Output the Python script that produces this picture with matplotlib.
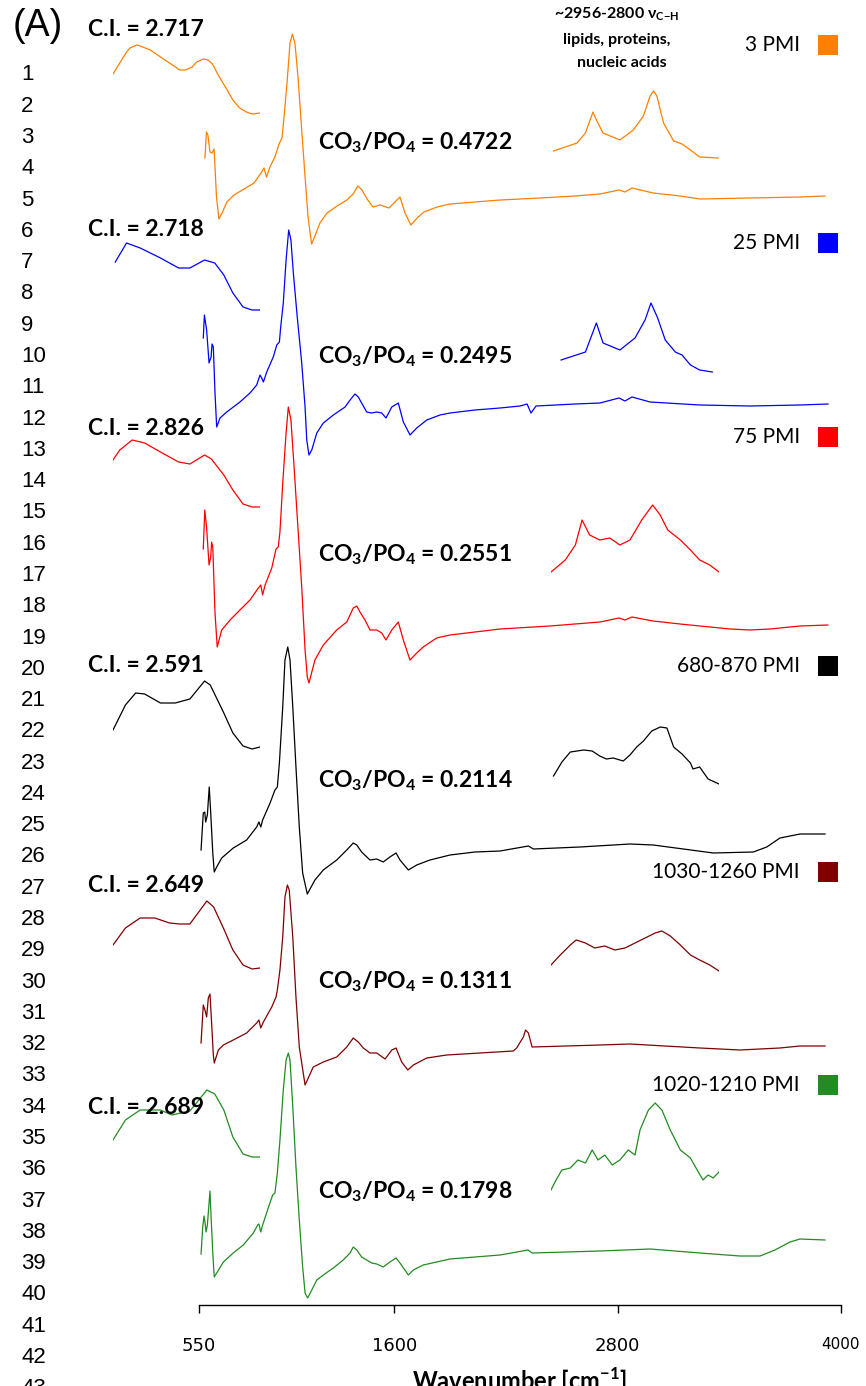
import numpy as np
import matplotlib
matplotlib.use("Agg")
import matplotlib.pyplot as plt
from matplotlib.patches import Rectangle

plt.rcParams["font.family"] = ["Lato", "DejaVu Sans"]
plt.rcParams["mathtext.fontset"] = "custom"
plt.rcParams["mathtext.rm"] = "Lato"
plt.rcParams["mathtext.bf"] = "Lato:bold"

# Sample groups (post-mortem interval) and colours
samples = ["3 PMI", "25 PMI", "75 PMI", "680-870 PMI", "1030-1260 PMI", "1020-1210 PMI"]
colors = ["#FF8000", "#0000FF", "#FF0000", "#000000", "#800000", "#228B22"]
ci_values = ["2.717", "2.718", "2.826", "2.591", "2.649", "2.689"]
co3_po4 = ["0.4722", "0.2495", "0.2551", "0.2114", "0.1311", "0.1798"]

# Full spectra (wavenumber in cm-1, absorbance in a.u.)
wn_3 = [582, 590, 598, 609, 620, 631, 644, 657, 674, 700, 738, 792, 846, 883, 899, 913, 931, 958, 980, 996,
        1007, 1023, 1039, 1052, 1066, 1082, 1103, 1120, 1136, 1155, 1173, 1200, 1238, 1292, 1345, 1378, 1404,
        1426, 1453, 1485, 1523, 1571, 1603, 1630, 1657, 1689, 1722, 1759, 1829, 1899, 2033, 2168, 2383, 2571,
        2705, 2807, 2839, 2877, 2990, 3135, 3242, 3511, 3780, 3914]
abs_3 = [0.47, 0.73, 0.70, 0.53, 0.52, 0.56, 0.08, -0.14, -0.08, 0.03, 0.10, 0.16, 0.22, 0.32, 0.37, 0.28, 0.38,
         0.48, 0.61, 0.67, 0.88, 1.22, 1.62, 1.71, 1.61, 1.28, 0.72, 0.28, -0.12, -0.39, -0.31, -0.18, -0.08,
         -0.01, 0.05, 0.11, 0.19, 0.15, 0.06, -0.02, 0.00, -0.03, 0.03, 0.08, -0.08, -0.20, -0.13, -0.07, -0.02,
         0.01, 0.03, 0.05, 0.07, 0.09, 0.11, 0.15, 0.13, 0.17, 0.12, 0.09, 0.06, 0.07, 0.08, 0.09]

wn_25 = [573, 579, 591, 604, 615, 620, 627, 636, 645, 663, 699, 770, 824, 860, 878, 887, 896, 914, 949, 968,
         982, 989, 1003, 1018, 1032, 1044, 1057, 1078, 1102, 1120, 1129, 1141, 1156, 1183, 1218, 1272, 1335,
         1362, 1388, 1406, 1424, 1451, 1478, 1505, 1532, 1555, 1586, 1621, 1648, 1684, 1720, 1774, 1845, 1899,
         2033, 2168, 2275, 2313, 2334, 2361, 2571, 2705, 2807, 2839, 2877, 2974, 3242, 3511, 3780, 3930]
abs_25 = [0.67, 0.90, 0.75, 0.42, 0.48, 0.61, 0.58, 0.12, -0.22, -0.13, -0.07, 0.03, 0.12, 0.20, 0.30, 0.27,
          0.23, 0.33, 0.48, 0.60, 0.63, 0.78, 1.02, 1.45, 1.75, 1.65, 1.32, 0.88, 0.42, -0.02, -0.35, -0.50,
          -0.45, -0.28, -0.18, -0.10, -0.02, 0.05, 0.11, 0.08, 0.02, -0.07, -0.08, -0.07, -0.08, -0.13, -0.02,
          0.02, -0.17, -0.30, -0.23, -0.15, -0.10, -0.08, -0.05, -0.03, -0.01, 0.01, -0.08, -0.01, 0.01, 0.02,
          0.07, 0.04, 0.08, 0.03, 0.00, -0.01, 0.00, 0.01]

wn_75 = [573, 581, 591, 604, 613, 618, 624, 636, 648, 672, 717, 770, 824, 869, 882, 892, 905, 941, 964, 976,
         985, 1000, 1018, 1030, 1044, 1061, 1078, 1102, 1120, 1132, 1141, 1173, 1218, 1290, 1344, 1379, 1398,
         1415, 1442, 1469, 1505, 1532, 1555, 1586, 1621, 1648, 1684, 1720, 1755, 1827, 1899, 2033, 2168, 2436,
         2705, 2807, 2839, 2877, 2990, 3135, 3242, 3404, 3511, 3619, 3780, 3930]
abs_75 = [0.76, 1.15, 0.97, 0.60, 0.68, 0.83, 0.78, 0.12, -0.22, -0.05, 0.05, 0.15, 0.25, 0.37, 0.40, 0.30,
          0.40, 0.57, 0.76, 0.78, 0.93, 1.42, 1.92, 2.18, 2.05, 1.58, 1.08, 0.38, -0.25, -0.52, -0.58, -0.35,
          -0.20, -0.05, 0.03, 0.17, 0.19, 0.13, 0.05, -0.05, -0.05, -0.08, -0.15, -0.05, 0.03, -0.15, -0.35,
          -0.28, -0.22, -0.13, -0.10, -0.07, -0.04, -0.01, 0.03, 0.07, 0.05, 0.08, 0.04, 0.01, -0.01, -0.04,
          -0.05, -0.04, -0.01, 0.00]

wn_680 = [561, 573, 581, 586, 595, 605, 613, 624, 632, 645, 672, 734, 806, 860, 872, 882, 892, 932, 958, 971,
          982, 1000, 1012, 1027, 1039, 1054, 1071, 1089, 1107, 1132, 1173, 1218, 1290, 1344, 1379, 1398, 1424,
          1469, 1505, 1540, 1576, 1609, 1630, 1675, 1720, 1791, 1899, 2033, 2168, 2320, 2347, 2598, 2866, 2991,
          3314, 3529, 3601, 3672, 3780, 3914]
abs_680 = [-0.05, 0.32, 0.33, 0.23, 0.30, 0.58, 0.32, -0.08, -0.27, -0.22, -0.13, -0.03, 0.05, 0.18, 0.23, 0.18,
           0.25, 0.42, 0.55, 0.58, 0.82, 1.38, 1.85, 1.98, 1.85, 1.38, 0.78, 0.18, -0.28, -0.49, -0.35, -0.25,
           -0.15, -0.05, 0.02, 0.00, -0.07, -0.15, -0.14, -0.17, -0.12, -0.08, -0.15, -0.25, -0.20, -0.15, -0.10,
           -0.07, -0.06, -0.01, -0.04, -0.02, 0.01, 0.00, -0.08, -0.07, -0.02, 0.07, 0.11, 0.11]

wn_1030 = [561, 573, 582, 591, 600, 609, 616, 627, 632, 654, 681, 734, 806, 860, 872, 882, 896, 941, 964, 971,
           985, 1000, 1012, 1025, 1035, 1054, 1071, 1089, 1120, 1164, 1218, 1290, 1344, 1379, 1406, 1433, 1469,
           1505, 1550, 1586, 1609, 1639, 1672, 1702, 1774, 1881, 2060, 2239, 2257, 2293, 2305, 2320, 2340, 2705,
           2866, 3242, 3457, 3672, 3780, 3914]
abs_1030 = [0.02, 0.40, 0.35, 0.28, 0.47, 0.51, 0.28, -0.10, -0.18, -0.05, 0.00, 0.05, 0.12, 0.22, 0.25, 0.17,
            0.23, 0.38, 0.48, 0.55, 0.75, 1.08, 1.48, 1.60, 1.55, 1.08, 0.48, -0.02, -0.40, -0.22, -0.17, -0.12,
            -0.02, 0.07, 0.03, -0.03, -0.08, -0.08, -0.14, -0.05, -0.03, -0.17, -0.25, -0.20, -0.13, -0.10, -0.08,
            -0.06, -0.03, 0.08, 0.15, 0.12, -0.02, 0.00, 0.01, -0.03, -0.05, -0.03, -0.01, -0.01]

wn_1020 = [561, 570, 577, 582, 588, 595, 609, 614, 624, 632, 645, 681, 734, 788, 842, 865, 872, 882, 892, 922,
           946, 958, 971, 985, 1003, 1018, 1030, 1039, 1054, 1071, 1089, 1107, 1120, 1134, 1156, 1183, 1218,
           1272, 1325, 1362, 1379, 1398, 1424, 1451, 1478, 1505, 1540, 1576, 1609, 1630, 1675, 1702, 1755, 1827,
           1899, 2168, 2318, 2340, 2705, 2974, 3242, 3457, 3565, 3645, 3726, 3780, 3914]
abs_1020 = [0.01, 0.28, 0.39, 0.33, 0.23, 0.30, 0.64, 0.42, 0.02, -0.22, -0.18, -0.07, 0.02, 0.10, 0.22, 0.30,
            0.31, 0.23, 0.30, 0.47, 0.60, 0.62, 0.82, 1.15, 1.65, 1.95, 2.02, 1.95, 1.48, 0.88, 0.35, -0.12,
            -0.38, -0.43, -0.35, -0.25, -0.20, -0.13, -0.05, 0.02, 0.08, 0.05, -0.02, -0.05, -0.08, -0.09, -0.12,
            -0.07, -0.03, -0.08, -0.20, -0.15, -0.10, -0.07, -0.04, 0.00, 0.05, 0.02, 0.04, 0.06, 0.02, -0.01,
            -0.01, 0.05, 0.13, 0.16, 0.15]

# v4 PO4 region (crystallinity index)
po4_wn_3 = [520, 526, 532, 535, 541, 544, 553, 562, 570, 579, 584, 590, 594, 600, 604, 608, 613, 621, 626, 632,
            638, 643, 650]
po4_3 = [0.40, 0.51, 0.62, 0.66, 0.69, 0.68, 0.64, 0.57, 0.51, 0.44, 0.44, 0.47, 0.52, 0.55, 0.54, 0.50, 0.39,
         0.24, 0.14, 0.06, 0.02, 0.00, 0.01]
po4_wn_25 = [522, 532, 544, 562, 578, 588, 601, 610, 618, 626, 635, 643, 650]
po4_25 = [0.48, 0.67, 0.62, 0.52, 0.42, 0.42, 0.50, 0.47, 0.35, 0.17, 0.03, 0.00, 0.00]
po4_wn_75 = [520, 526, 537, 548, 562, 578, 588, 601, 607, 618, 626, 635, 643, 650]
po4_75 = [0.47, 0.57, 0.67, 0.64, 0.55, 0.45, 0.43, 0.52, 0.48, 0.32, 0.17, 0.03, 0.00, 0.00]
po4_wn_680 = [520, 531, 540, 548, 562, 575, 588, 601, 606, 618, 626, 635, 643, 650]
po4_680 = [0.17, 0.42, 0.54, 0.53, 0.44, 0.44, 0.48, 0.66, 0.62, 0.34, 0.14, 0.01, -0.02, 0.00]
po4_wn_1030 = [520, 531, 544, 557, 570, 579, 588, 603, 609, 618, 626, 635, 643, 650]
po4_1030 = [0.23, 0.40, 0.50, 0.50, 0.45, 0.44, 0.44, 0.67, 0.61, 0.39, 0.18, 0.03, -0.01, 0.00]
po4_wn_1020 = [520, 531, 544, 562, 572, 584, 588, 603, 610, 618, 626, 635, 643, 650]
po4_1020 = [0.17, 0.37, 0.47, 0.47, 0.42, 0.45, 0.46, 0.67, 0.63, 0.47, 0.20, 0.03, 0.00, 0.00]

# C-H stretching region
ch_wn_3 = [2803, 2831, 2841, 2850, 2854, 2862, 2882, 2898, 2910, 2918, 2922, 2926, 2934, 2946, 2956, 2966,
           2977, 2999]
ch_3 = [0.07, 0.15, 0.25, 0.46, 0.38, 0.25, 0.18, 0.28, 0.42, 0.62, 0.67, 0.62, 0.35, 0.17, 0.14, 0.08, 0.01, 0.00]
ch_wn_25 = [2812, 2841, 2854, 2862, 2882, 2900, 2912, 2919, 2927, 2936, 2948, 2956, 2966, 2977, 2992]
ch_25 = [0.12, 0.20, 0.49, 0.29, 0.22, 0.34, 0.52, 0.69, 0.54, 0.32, 0.20, 0.17, 0.07, 0.02, 0.00]
ch_wn_75 = [2800, 2817, 2829, 2837, 2846, 2858, 2870, 2882, 2894, 2908, 2921, 2930, 2939, 2954, 2966, 2977,
            2989, 3000]
ch_75 = [0.00, 0.12, 0.27, 0.52, 0.37, 0.32, 0.34, 0.27, 0.32, 0.52, 0.67, 0.57, 0.42, 0.32, 0.22, 0.12, 0.07, 0.00]
ch_wn_680 = [2803, 2813, 2823, 2839, 2849, 2858, 2866, 2874, 2886, 2894, 2902, 2910, 2920, 2930, 2938, 2946,
             2956, 2966, 2969, 2977, 2987, 3000]
ch_680 = [0.08, 0.22, 0.32, 0.34, 0.33, 0.28, 0.25, 0.26, 0.23, 0.29, 0.37, 0.43, 0.53, 0.57, 0.56, 0.37, 0.30,
          0.21, 0.15, 0.17, 0.05, 0.00]
ch_wn_1030 = [2800, 2811, 2823, 2830, 2841, 2852, 2864, 2876, 2888, 2900, 2912, 2924, 2932, 2942, 2954, 2966,
              2977, 2989, 3000]
ch_1030 = [0.06, 0.16, 0.26, 0.31, 0.28, 0.23, 0.25, 0.21, 0.23, 0.28, 0.33, 0.38, 0.40, 0.35, 0.26, 0.16, 0.11,
           0.06, 0.00]
ch_wn_1020 = [2800, 2806, 2813, 2823, 2832, 2841, 2849, 2856, 2864, 2873, 2882, 2892, 2900, 2906, 2916, 2924,
              2932, 2942, 2954, 2966, 2974, 2981, 2987, 2993, 3000]
ch_1020 = [0.00, 0.10, 0.20, 0.22, 0.30, 0.27, 0.40, 0.30, 0.35, 0.25, 0.30, 0.40, 0.35, 0.60, 0.80, 0.87, 0.80,
           0.60, 0.40, 0.32, 0.20, 0.10, 0.15, 0.12, 0.18]

spectra = [(wn_3, abs_3), (wn_25, abs_25), (wn_75, abs_75), (wn_680, abs_680), (wn_1030, abs_1030),
           (wn_1020, abs_1020)]
po4_bands = [(po4_wn_3, po4_3), (po4_wn_25, po4_25), (po4_wn_75, po4_75), (po4_wn_680, po4_680),
             (po4_wn_1030, po4_1030), (po4_wn_1020, po4_1020)]
ch_bands = [(ch_wn_3, ch_3), (ch_wn_25, ch_25), (ch_wn_75, ch_75), (ch_wn_680, ch_680),
            (ch_wn_1030, ch_1030), (ch_wn_1020, ch_1020)]

# vertical stacking
offsets = [11.0, 9.0, 6.8, 4.6, 2.6, 0.5]
po4_offsets = [11.91, 9.95, 7.98, 5.58, 3.37, 1.48]
ch_offsets = [11.47, 9.33, 7.33, 5.21, 3.34, 1.15]

W, H = 866, 1386
fig = plt.figure(figsize=(W / 100, H / 100), dpi=100)


def box(x0, y0, x1, y1):
    return [x0 / W, 1 - y1 / H, (x1 - x0) / W, (y1 - y0) / H]


ax = fig.add_axes(box(199, 0, 841, 1305))
ax_po4 = fig.add_axes(box(113, 0, 260, 1305))
ax_ch = fig.add_axes(box(551, 0, 719, 1305))
for a in (ax, ax_po4, ax_ch):
    a.set_ylim(0, 13.05)
    a.patch.set_alpha(0)
ax_po4.set_xlim(520, 650)
ax_ch.set_xlim(2800, 3000)
ax_po4.axis("off")
ax_ch.axis("off")

for i, c in enumerate(colors):
    x, y = spectra[i]
    ax.plot(x, np.array(y) + offsets[i], color=c, lw=0.9)
    x, y = po4_bands[i]
    ax_po4.plot(x, np.array(y) + po4_offsets[i], color=c, lw=0.9)
    x, y = ch_bands[i]
    ax_ch.plot(x, np.array(y) + ch_offsets[i], color=c, lw=0.9)

ax.set_xlim(550, 4000)
for s in ("left", "right", "top"):
    ax.spines[s].set_visible(False)
ax.spines["bottom"].set_linewidth(1.0)
ax.set_yticks([])
ax.set_xticks([550, 1600, 2800, 4000])
ax.set_xticklabels(["550", "1600", "2800", "4000"], family=["Liberation Sans Narrow", "DejaVu Sans"])
ax.tick_params(axis="x", direction="out", length=6, width=1.0, pad=17, labelsize=13)
ax.get_xticklabels()[-1].set_fontsize(11)

fig.text(520 / W, 1 - 1381 / H, r"Wavenumber [cm$^\mathbf{-1}$]", fontsize=17, fontweight="bold",
         ha="center", va="center")

# row numbers down the left edge
for k in range(1, 44):
    fig.text(21 / W, 1 - (75 + (k - 1) * 31.28) / H, str(k), fontsize=16, ha="left", va="center",
             family=["Liberation Sans", "DejaVu Sans"])

fig.text(38 / W, 1 - 26 / H, "(A)", fontsize=27, ha="center", va="center",
         family=["Liberation Sans", "DejaVu Sans"])

ci_y = [30, 229, 428, 665, 885, 1108]
ratio_y = [143, 357, 555, 781, 982, 1192]
legend_y = [45, 243, 437, 666, 872, 1085]
for i, c in enumerate(colors):
    fig.text(88 / W, 1 - ci_y[i] / H, "C.I. = " + ci_values[i], fontsize=16.5, fontweight="bold",
             ha="left", va="center")
    fig.text(318 / W, 1 - ratio_y[i] / H, r"CO$_\mathbf{3}$/PO$_\mathbf{4}$ = " + co3_po4[i], fontsize=16.5,
             fontweight="bold", ha="left", va="center")
    fig.text(800 / W, 1 - legend_y[i] / H, samples[i], fontsize=15, ha="right", va="center")
    fig.patches.append(Rectangle((818 / W, 1 - (legend_y[i] + 10) / H), 20 / W, 20 / H,
                                 transform=fig.transFigure, facecolor=c, edgecolor="none"))

fig.text(617 / W, 1 - 14 / H, r"~2956-2800 ν$_\mathbf{C{-}H}$", fontsize=11.5, fontweight="bold",
         ha="center", va="center")
fig.text(617 / W, 1 - 40 / H, "lipids, proteins,", fontsize=11.5, fontweight="bold", ha="center", va="center")
fig.text(622 / W, 1 - 63 / H, "nucleic acids", fontsize=11.5, fontweight="bold", ha="center", va="center")

fig.savefig("out.png", dpi=100)
